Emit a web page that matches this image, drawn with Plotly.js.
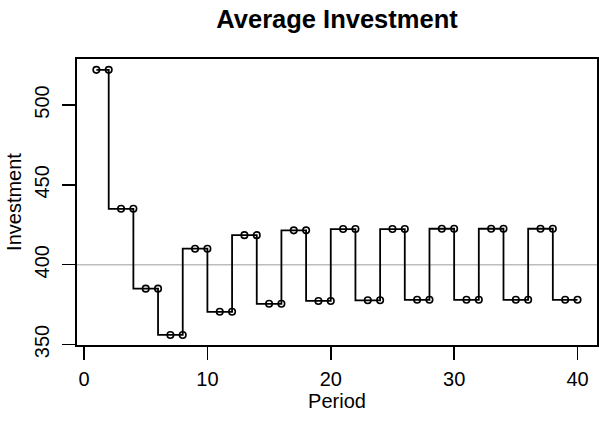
<!DOCTYPE html>
<html>
<head>
<meta charset="utf-8">
<script src="https://cdn.plot.ly/plotly-3.0.1.min.js"></script>
<style>
  html, body { margin: 0; padding: 0; background: #fff; }
  #plot { width: 599px; height: 422px; }
</style>
</head>
<body>
<div id="plot"></div>
<script>
// average investment per period
var periods = [];
for (var i = 1; i <= 40; i++) periods.push(i);
var investment = [
  522, 522, 435, 435, 385, 385, 356, 356, 410, 410,
  370.5, 370.5, 418.5, 418.5, 375.5, 375.5, 421.5, 421.5, 377.3, 377.3,
  422.3, 422.3, 377.7, 377.7, 422.3, 422.3, 378, 378, 422.5, 422.5,
  378, 378, 422.5, 422.5, 378, 378, 422.5, 422.5, 378, 378
];
var refLevel = 400;
var xTicks = [0, 10, 20, 30, 40];
var yTicks = [350, 400, 450, 500];

var font = 'Liberation Sans, Arial, Helvetica, sans-serif';

var data = [{
  x: periods,
  y: investment,
  type: 'scatter',
  mode: 'lines+markers',
  line: {shape: 'vh', color: '#000', width: 1.8},
  marker: {symbol: 'circle-open', size: 6.5, color: '#000', line: {width: 1.6, color: '#000'}},
  hoverinfo: 'x+y'
}];

var layout = {
  width: 599,
  height: 422,
  margin: {l: 77, r: 2, t: 59, b: 77, pad: 0},
  paper_bgcolor: '#fff',
  plot_bgcolor: '#fff',
  showlegend: false,
  font: {family: font, size: 20, color: '#000'},
  title: {
    text: '<b>Average Investment</b>',
    font: {family: font, size: 25.5, color: '#000'},
    x: 0.5, xref: 'paper', y: 0.955, yanchor: 'middle'
  },
  xaxis: {
    range: [-0.57, 41.58],
    tickvals: xTicks,
    ticktext: xTicks.map(String),
    ticks: 'outside', ticklen: 13, tickwidth: 1.5, tickcolor: '#000',
    ticklabelstandoff: 2,
    showline: true, mirror: true, linecolor: '#000', linewidth: 1.6,
    showgrid: false, zeroline: false,
    tickfont: {size: 20},
    title: {text: 'Period', font: {size: 20}, standoff: 3}
  },
  yaxis: {
    range: [349.7, 528.8],
    tickvals: yTicks,
    ticktext: yTicks.map(String),
    tickangle: -90,
    ticks: 'outside', ticklen: 13, tickwidth: 1.5, tickcolor: '#000',
    ticklabelstandoff: 5,
    showline: true, mirror: true, linecolor: '#000', linewidth: 1.6,
    showgrid: false, zeroline: false,
    tickfont: {size: 20},
    title: {text: 'Investment', font: {size: 20}, standoff: 4}
  },
  shapes: [{
    type: 'line', xref: 'paper', x0: 0, x1: 1, yref: 'y', y0: refLevel, y1: refLevel,
    line: {color: '#bdbdbd', width: 1.5}, layer: 'below'
  }]
};

Plotly.newPlot('plot', data, layout, {displayModeBar: false, staticPlot: true});
</script>
</body>
</html>
